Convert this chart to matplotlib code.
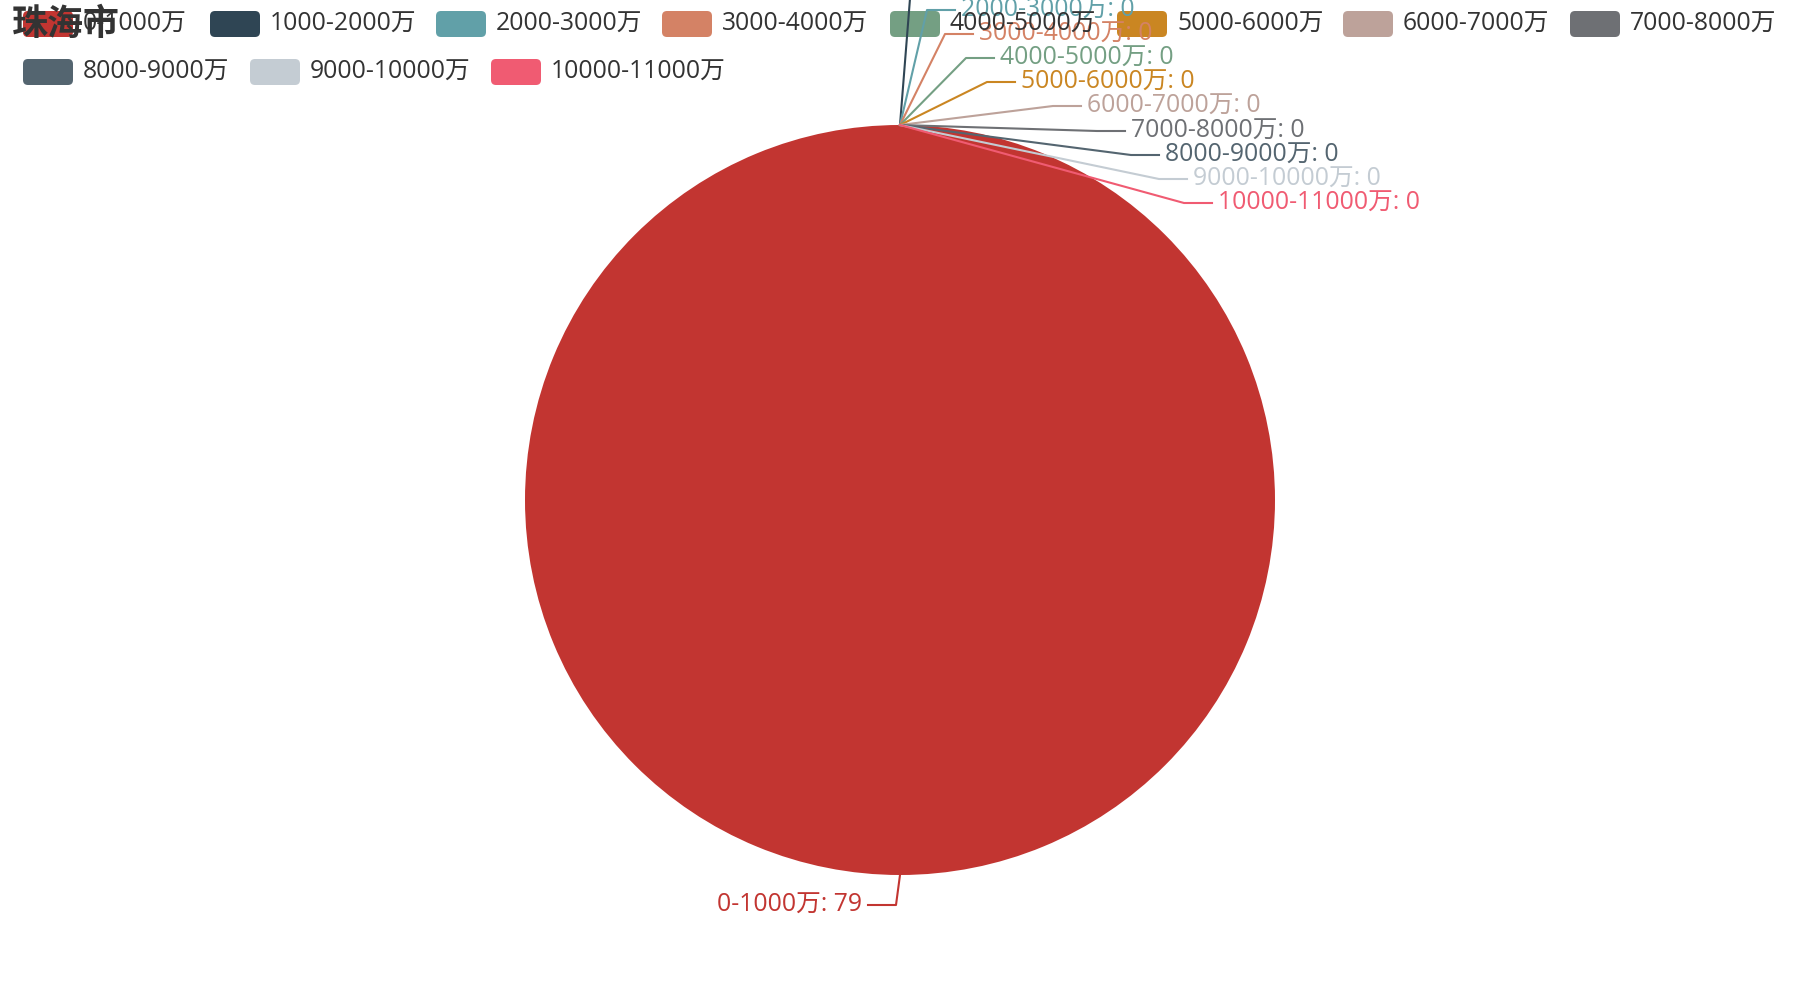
import numpy as np
import matplotlib.pyplot as plt
from matplotlib.patches import FancyBboxPatch

plt.rcParams['font.family'] = ['Open Sans', 'Noto Sans CJK SC', 'DejaVu Sans']

title = '珠海市'
categories = ['0-1000万', '1000-2000万', '2000-3000万', '3000-4000万', '4000-5000万',
              '5000-6000万', '6000-7000万', '7000-8000万', '8000-9000万',
              '9000-10000万', '10000-11000万']
values = [79, 0, 0, 0, 0, 0, 0, 0, 0, 0, 0]
colors = ['#c23531', '#2f4554', '#61a0a8', '#d48265', '#749f83', '#ca8622',
          '#bda29a', '#6e7074', '#546570', '#c4ccd3', '#f05b72']

# layout (pixels, y down)
cx, cy, r = 900, 500, 375
fs = 17.8
# stacked label rows for the zero slices at the top of the pie
top_label_y = [-14, 10, 34, 58, 82, 106, 131, 155, 179, 203]
top_label_x = [945, 961, 979, 1000, 1021, 1087, 1131, 1165, 1193, 1218]
legend_x = [23, 210, 436, 662, 890, 1117, 1343, 1570, 23, 250, 491]
legend_y = [24] * 8 + [72] * 3

fig = plt.figure(figsize=(18, 10), dpi=100)
ax = fig.add_axes([0, 0, 1, 1])
ax.pie(values, colors=colors, startangle=90, counterclock=False,
       center=(cx, cy), radius=r, wedgeprops=dict(linewidth=0), frame=True)
ax.set_xlim(0, 1800)
ax.set_ylim(1000, 0)
ax.set_aspect('equal')
ax.axis('off')

# labels with elbow lines
total = float(sum(values))
cum = 0.0
k = 0
for name, v, c in zip(categories, values, colors):
    mid = (cum + v / 2.0) / total
    cum += v
    theta = np.deg2rad(90 - 360 * mid)
    px, py = cx + r * np.cos(theta), cy - r * np.sin(theta)
    txt = '%s: %d' % (name, v)
    if v > 0:
        ex, ey = px - 4, py + 30
        lx = ex - 28
        ax.plot([px, ex, lx], [py, ey, ey], color=c, lw=1.5, clip_on=False)
        ax.text(lx - 6, ey, txt, color=c, fontsize=fs, ha='right', va='center')
    else:
        tx, ty = top_label_x[k], top_label_y[k]
        k += 1
        ax.plot([px, tx - 34, tx - 6], [py, ty, ty], color=c, lw=1.5, clip_on=False)
        ax.text(tx, ty, txt, color=c, fontsize=fs, ha='left', va='center')

# legend
for name, c, x, y in zip(categories, colors, legend_x, legend_y):
    box = FancyBboxPatch((x, y - 13), 50, 26, boxstyle='round,pad=0,rounding_size=5',
                         fc=c, ec='none', clip_on=False)
    ax.add_patch(box)
    ax.text(x + 60, y, name, color='#333333', fontsize=fs, ha='left', va='center')

ax.text(12, 24, title, color='#333333', fontsize=25.9, fontweight='bold',
        family=['Noto Sans CJK SC', 'DejaVu Sans'],
        ha='left', va='center', zorder=10)

fig.savefig('out.png', dpi=100)
